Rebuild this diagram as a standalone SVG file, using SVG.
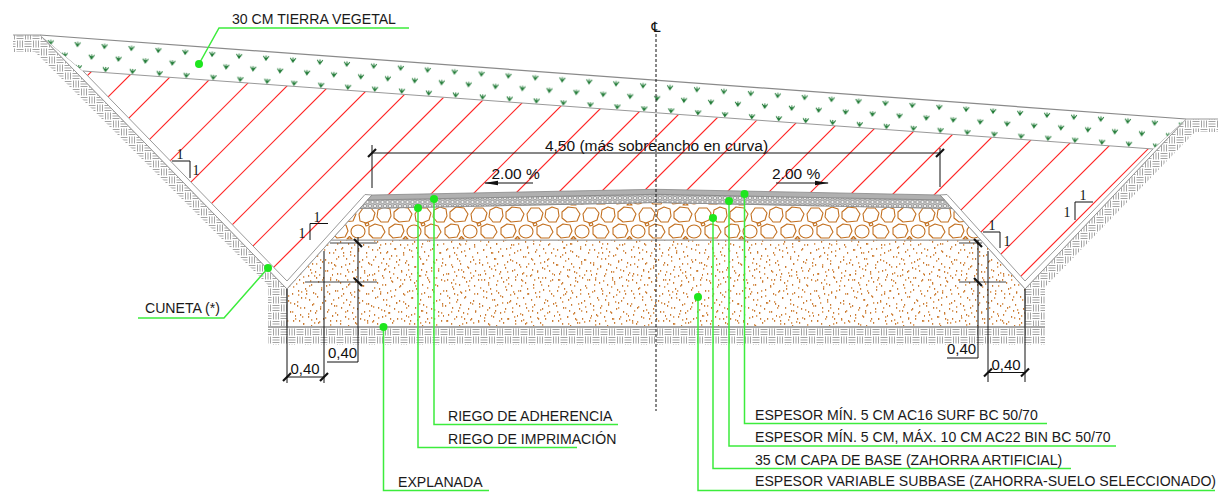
<svg xmlns="http://www.w3.org/2000/svg" xmlns:xlink="http://www.w3.org/1999/xlink" width="1227" height="495" viewBox="0 0 1227 495">
<style>
.lbl{font-family:"Liberation Sans",Arial,sans-serif;font-size:14.1px;fill:#1a1a1a}
.dim{font-family:"Liberation Sans",Arial,sans-serif;font-size:15.5px;fill:#111}
.d40{font-family:"Liberation Sans",Arial,sans-serif;font-size:15px;fill:#111}
.one{font-family:"Liberation Serif","Times New Roman",serif;font-size:14px;fill:#111}
.lead{stroke:#3cec3c;stroke-width:1.5;fill:none}
.dot{fill:#1ee61e}
.dl{stroke:#111;stroke-width:1;fill:none}
.ext{stroke:#444;stroke-width:1;fill:none}
.tick{stroke:#111;stroke-width:2.2}
.gl{stroke:#9a9a9a;stroke-width:1;fill:none}
.rl{stroke:#ff2a2a;stroke-width:1.2;fill:none}
</style>
<defs>
<pattern id="ground" patternUnits="userSpaceOnUse" width="16" height="16">
<rect width="16" height="16" fill="#fff"/>
<path d="M0.5,1.5H7.5M0.5,4H7.5M0.5,6.5H7.5M9.5,0.5V7.5M12,0.5V7.5M14.5,0.5V7.5M1.5,8.5V15.5M4,8.5V15.5M6.5,8.5V15.5M8.5,9.5H15.5M8.5,12H15.5M8.5,14.5H15.5" stroke="#999" stroke-width="0.9" fill="none"/>
</pattern>
<path id="tuft" d="M-2.8,-2L0,2.2L2.8,-2M0,-2.5V2.5M-1.6,-0.6L0,1.4L1.6,-0.6" fill="none" stroke="#1f7a35" stroke-width="1"/>
<pattern id="veg" patternUnits="userSpaceOnUse" width="27" height="34.35" patternTransform="translate(46,37) rotate(4.17)">
<use href="#tuft" x="5" y="5"/>
<use href="#tuft" x="19.9" y="16.45"/>
<use href="#tuft" x="7.8" y="27.9"/>
</pattern>
<pattern id="stones" patternUnits="userSpaceOnUse" x="0" y="206" width="56" height="34">
<g fill="none" stroke="#c26f1f" stroke-width="1.1" stroke-linejoin="round">
<path d="M2,6L8,1L16,2L20,8L17,15L7,16L2,12Z"/>
<path d="M23,8L27,2L35,2L39,7L37,14L30,17L24,15Z"/>
<path d="M42,4L48,1L54,3L55,10L52,16L45,16L41,11Z"/>
<path d="M-3,22L3,18L10,19L12,25L9,31L1,32L-3,28Z"/>
<path d="M53,22L59,18L66,19L68,25L65,31L57,32L53,28Z"/>
<ellipse cx="22" cy="25.5" rx="7" ry="6.5"/>
<path d="M33,21L39,18L46,20L49,26L45,32L37,32L33,28Z"/>
<path d="M11,33L13.5,30.5L16,33Z"/>
<path d="M29,17.5L32,16.5L33,19L30,20Z"/>
</g>
</pattern>
<pattern id="spA" patternUnits="userSpaceOnUse" width="37" height="41">
<g fill="#c8782f">
<rect x="2" y="3" width="1.2" height="1.8"/><rect x="9" y="1" width="1.2" height="1.8"/><rect x="17" y="5" width="1.2" height="1.8"/><rect x="25" y="2" width="1.2" height="1.8"/><rect x="33" y="6" width="1.2" height="1.8"/><rect x="5" y="10" width="1.2" height="1.8"/><rect x="13" y="12" width="1.2" height="1.8"/><rect x="21" y="9" width="1.2" height="1.8"/><rect x="29" y="13" width="1.2" height="1.8"/><rect x="35" y="16" width="1.2" height="1.8"/><rect x="1" y="18" width="1.2" height="1.8"/><rect x="8" y="20" width="1.2" height="1.8"/><rect x="16" y="17" width="1.2" height="1.8"/><rect x="24" y="21" width="1.2" height="1.8"/><rect x="31" y="24" width="1.2" height="1.8"/><rect x="4" y="27" width="1.2" height="1.8"/><rect x="12" y="29" width="1.2" height="1.8"/><rect x="19" y="25" width="1.2" height="1.8"/><rect x="27" y="31" width="1.2" height="1.8"/><rect x="34" y="33" width="1.2" height="1.8"/><rect x="7" y="36" width="1.2" height="1.8"/><rect x="15" y="38" width="1.2" height="1.8"/><rect x="22" y="35" width="1.2" height="1.8"/><rect x="30" y="39" width="1.2" height="1.8"/><rect x="36" y="28" width="1" height="1.8"/><rect x="10" y="6" width="1.2" height="1.8"/><rect x="20" y="31" width="1.2" height="1.8"/><rect x="3" y="33" width="1.2" height="1.8"/><rect x="26" y="15" width="1.2" height="1.8"/><rect x="14" y="23" width="1.2" height="1.8"/>
</g>
</pattern>
<pattern id="spB" patternUnits="userSpaceOnUse" width="53" height="47">
<g fill="#dc9c5e">
<rect x="3" y="5" width="1.3" height="1.9"/><rect x="11" y="2" width="1.3" height="1.9"/><rect x="19" y="8" width="1.3" height="1.9"/><rect x="28" y="4" width="1.3" height="1.9"/><rect x="36" y="9" width="1.3" height="1.9"/><rect x="44" y="3" width="1.3" height="1.9"/><rect x="50" y="11" width="1.3" height="1.9"/><rect x="6" y="14" width="1.3" height="1.9"/><rect x="15" y="17" width="1.3" height="1.9"/><rect x="23" y="13" width="1.3" height="1.9"/><rect x="32" y="19" width="1.3" height="1.9"/><rect x="40" y="15" width="1.3" height="1.9"/><rect x="48" y="21" width="1.3" height="1.9"/><rect x="2" y="24" width="1.3" height="1.9"/><rect x="10" y="27" width="1.3" height="1.9"/><rect x="18" y="23" width="1.3" height="1.9"/><rect x="27" y="29" width="1.3" height="1.9"/><rect x="35" y="25" width="1.3" height="1.9"/><rect x="43" y="31" width="1.3" height="1.9"/><rect x="51" y="28" width="1.3" height="1.9"/><rect x="7" y="35" width="1.3" height="1.9"/><rect x="14" y="33" width="1.3" height="1.9"/><rect x="22" y="38" width="1.3" height="1.9"/><rect x="30" y="36" width="1.3" height="1.9"/><rect x="38" y="41" width="1.3" height="1.9"/><rect x="46" y="37" width="1.3" height="1.9"/><rect x="4" y="44" width="1.3" height="1.9"/><rect x="12" y="42" width="1.3" height="1.9"/><rect x="20" y="45" width="1.3" height="1.9"/><rect x="29" y="44" width="1.3" height="1.9"/><rect x="37" y="34" width="1.3" height="1.9"/><rect x="45" y="45" width="1.3" height="1.9"/><rect x="25" y="20" width="1.3" height="1.9"/><rect x="41" y="8" width="1.3" height="1.9"/><rect x="9" y="9" width="1.3" height="1.9"/><rect x="33" y="12" width="1.3" height="1.9"/><rect x="17" y="30" width="1.3" height="1.9"/><rect x="49" y="40" width="1.3" height="1.9"/><rect x="1" y="39" width="1.3" height="1.9"/><rect x="31" y="1" width="1.3" height="1.9"/>
</g>
</pattern>
<pattern id="bin" patternUnits="userSpaceOnUse" x="0" y="200" width="10" height="8">
<rect width="10" height="8" fill="#c4c4c4"/>
<g fill="#f4f4f4" stroke="#7a7a7a" stroke-width="0.6">
<circle cx="2.5" cy="2" r="1.6"/><circle cx="7.5" cy="2" r="1.6"/><circle cx="0" cy="6" r="1.6"/><circle cx="5" cy="6" r="1.6"/><circle cx="10" cy="6" r="1.6"/>
</g>
</pattern>
<clipPath id="fillClip">
<polygon points="83,71 1153,149 1025,281 947,194.5 940,195 656,189.3 372,195 365,194.5 287,281"/>
</clipPath>
<marker id="arr" viewBox="0 0 14 6" refX="13" refY="3" markerWidth="14" markerHeight="6" markerUnits="userSpaceOnUse" orient="auto">
<path d="M0,0.8L14,3L0,5.2Z" fill="#111"/>
</marker>
</defs>

<rect width="1227" height="495" fill="#fff"/>

<g id="ground">
<polygon points="13,35 40,35 287,289 287,345 268,345 268,285 35,52 13,52" fill="url(#ground)"/>
<polygon points="1218,119 1186,119 1025,289 1025,345 1045,345 1045,287 1195,132 1218,132" fill="url(#ground)"/>
<rect x="287" y="327" width="738" height="18" fill="url(#ground)"/>
<polyline class="gl" points="13,35 40,35 287,289"/>
<polyline class="gl" points="1218,119 1186,119 1025,289"/>
</g>

<g id="fill-slope">
<polygon points="83,71 1153,149 1025,281 947,194.5 940,195 656,189.3 372,195 365,194.5 287,281" fill="#fff"/>
<g clip-path="url(#fillClip)">
<path class="rl" d="M-137,300L113,50M-95,300L155,50M-53,300L197,50M-11,300L239,50M31,300L281,50M73,300L323,50M115,300L365,50M157,300L407,50M199,300L449,50M241,300L491,50M283,300L533,50M325,300L575,50M367,300L617,50M409,300L659,50M451,300L701,50M493,300L743,50M535,300L785,50M577,300L827,50M619,300L869,50M661,300L911,50M703,300L953,50M745,300L995,50M787,300L1037,50M829,300L1079,50M871,300L1121,50M913,300L1163,50M955,300L1205,50M997,300L1247,50M1039,300L1289,50"/>
</g>
</g>

<g id="cuneta-left">
<polygon points="40,35 287,289 372,195 365,194.5 287,281 83,71" fill="#fff" stroke="#999" stroke-width="1"/>
</g>
<g id="cuneta-right">
<polygon points="1186,119 1025,289 940,195 947,194.5 1025,281 1153,149" fill="#fff" stroke="#999" stroke-width="1"/>
</g>

<g id="tierra-vegetal">
<polygon points="40,35 1186,119 1153,149 83,71" fill="#fff"/>
<polygon points="40,35 1186,119 1153,149 83,71" fill="url(#veg)"/>
<line x1="40" y1="35" x2="1186" y2="119" stroke="#8a8a8a" stroke-width="1.2"/>
<line x1="83" y1="71" x2="1153" y2="149" stroke="#999" stroke-width="1"/>
</g>

<g id="subbase">
<polygon points="331.3,240 980.7,240 1025,289 1025,327 287,327 287,289" fill="#fff"/>
<polygon points="331.3,240 980.7,240 1025,289 1025,327 287,327 287,289" fill="url(#spB)"/>
<polygon points="331.3,240 980.7,240 1025,289 1025,327 287,327 287,289" fill="url(#spA)" stroke="#9a9a9a" stroke-width="1"/>
<line x1="268" y1="327" x2="1045" y2="327" stroke="#a8a8a8" stroke-width="2"/>
</g>

<g id="base">
<polygon points="331.3,240 359.8,208.5 656,202.5 952.2,208.5 980.7,240" fill="#fff"/>
<polygon points="331.3,240 359.8,208.5 656,202.5 952.2,208.5 980.7,240" fill="url(#stones)" stroke="#9a9a9a" stroke-width="1"/>
</g>

<g id="binder">
<polygon points="359.8,208.5 367.5,200 656,194.3 944.5,200 952.2,208.5 656,202.5" fill="url(#bin)" stroke="#8a8a8a" stroke-width="0.8"/>
</g>
<g id="surface">
<polygon points="367.5,200 372,195 656,189.3 940,195 944.5,200 656,194.3" fill="#b0b0b0" stroke="#888" stroke-width="0.8"/>
</g>

<g id="centerline">
<line x1="656" y1="34" x2="656" y2="411" stroke="#111" stroke-width="1" stroke-dasharray="3,2"/>
<text x="656" y="32" text-anchor="middle" font-family="DejaVu Sans, sans-serif" font-size="14" fill="#111">℄</text>
</g>

<g id="dim-width">
<line class="dl" x1="372" y1="153" x2="940" y2="153"/>
<line class="dl" x1="372" y1="145" x2="372" y2="188"/>
<line class="dl" x1="940" y1="148" x2="940" y2="187"/>
<line class="tick" x1="368" y1="157" x2="376" y2="149"/>
<line class="tick" x1="936" y1="157" x2="944" y2="149"/>
<text class="dim" x="656.5" y="150.5" text-anchor="middle">4,50 (más sobreancho en curva)</text>
</g>

<g id="slope-left">
<text class="dim" x="491.5" y="179">2.00 %</text>
<line x1="533" y1="183" x2="485" y2="183" stroke="#111" stroke-width="1.2" marker-end="url(#arr)"/>
</g>
<g id="slope-right">
<text class="dim" x="772" y="179">2.00 %</text>
<line x1="776" y1="183" x2="828" y2="183" stroke="#111" stroke-width="1.2" marker-end="url(#arr)"/>
</g>

<g id="talud-1">
<text class="one" x="180" y="159" text-anchor="middle">1</text>
<polyline class="dl" points="172,161 190,161 190,178"/>
<text class="one" x="196" y="175" text-anchor="middle">1</text>
</g>
<g id="talud-2">
<text class="one" x="317" y="222" text-anchor="middle">1</text>
<polyline class="dl" points="328,223.5 310,223.5 310,240"/>
<text class="one" x="302" y="238" text-anchor="middle">1</text>
</g>
<g id="talud-3">
<text class="one" x="992" y="230" text-anchor="middle">1</text>
<polyline class="dl" points="983,232 1000,232 1000,248"/>
<text class="one" x="1007" y="246" text-anchor="middle">1</text>
</g>
<g id="talud-4">
<text class="one" x="1083" y="200" text-anchor="middle">1</text>
<polyline class="dl" points="1093,202 1075,202 1075,220"/>
<text class="one" x="1067" y="217" text-anchor="middle">1</text>
</g>

<g id="dim-left">
<line class="ext" x1="330" y1="243" x2="377" y2="243"/>
<line class="ext" x1="305" y1="282" x2="377" y2="282"/>
<line class="dl" x1="358" y1="237" x2="358" y2="362"/>
<line class="dl" x1="324" y1="251" x2="324" y2="383"/>
<line class="dl" x1="287" y1="289" x2="287" y2="383"/>
<line class="tick" x1="354" y1="239" x2="362" y2="247"/>
<line class="tick" x1="354" y1="278" x2="362" y2="286"/>
<line class="dl" x1="327" y1="362" x2="358" y2="362"/>
<text class="d40" x="328" y="358">0,40</text>
<line class="dl" x1="287" y1="377" x2="324" y2="377"/>
<line class="tick" x1="283" y1="381" x2="291" y2="373"/>
<line class="tick" x1="320" y1="381" x2="328" y2="373"/>
<text class="d40" x="290.5" y="374">0,40</text>
</g>

<g id="dim-right">
<line class="ext" x1="959" y1="243" x2="982" y2="243"/>
<line class="ext" x1="959" y1="282" x2="1006" y2="282"/>
<line class="dl" x1="978" y1="240" x2="978" y2="358"/>
<line class="dl" x1="988" y1="251" x2="988" y2="382"/>
<line class="dl" x1="1025" y1="289" x2="1025" y2="382"/>
<line class="tick" x1="974" y1="239" x2="982" y2="247"/>
<line class="tick" x1="974" y1="278" x2="982" y2="286"/>
<line class="dl" x1="947" y1="358" x2="978" y2="358"/>
<text class="d40" x="947" y="354">0,40</text>
<line class="dl" x1="988" y1="372.5" x2="1025" y2="372.5"/>
<line class="tick" x1="984" y1="376.5" x2="992" y2="368.5"/>
<line class="tick" x1="1021" y1="376.5" x2="1029" y2="368.5"/>
<text class="d40" x="991.5" y="369.5">0,40</text>
</g>

<g id="connectors">
<polyline class="lead" points="199,64 219,28 409,28"/>
<polyline class="lead" points="268,268 224,318 138,318"/>
<polyline class="lead" points="434,199 434,424.5 618,424.5"/>
<polyline class="lead" points="418,208 418,447.5 577,447.5"/>
<polyline class="lead" points="383.5,327 383.5,490.5 489,490.5"/>
<polyline class="lead" points="744.5,194 744.5,423.5 1047,423.5"/>
<polyline class="lead" points="729,201 729,446 1116,446"/>
<polyline class="lead" points="713,218 713,468.5 1071,468.5"/>
<polyline class="lead" points="698,297 698,490.5 1215,490.5"/>
</g>

<g id="label-vegetal"><circle class="dot" cx="199" cy="64" r="4"/><text class="lbl" x="232" y="24">30 CM TIERRA VEGETAL</text></g>
<g id="label-cuneta"><circle class="dot" cx="268" cy="268" r="4"/><text class="lbl" x="145" y="313">CUNETA (*)</text></g>
<g id="label-adherencia"><circle class="dot" cx="434" cy="199" r="4"/><text class="lbl" x="448" y="421">RIEGO DE ADHERENCIA</text></g>
<g id="label-imprimacion"><circle class="dot" cx="418" cy="208" r="4"/><text class="lbl" x="448" y="443.5">RIEGO DE IMPRIMACIÓN</text></g>
<g id="label-explanada"><circle class="dot" cx="383.5" cy="327" r="4"/><text class="lbl" x="398" y="487">EXPLANADA</text></g>
<g id="label-surf"><circle class="dot" cx="744.5" cy="194" r="4"/><text class="lbl" x="755" y="419.5">ESPESOR MÍN. 5 CM AC16 SURF BC 50/70</text></g>
<g id="label-bin"><circle class="dot" cx="729" cy="201" r="4"/><text class="lbl" x="755" y="442">ESPESOR MÍN. 5 CM, MÁX. 10 CM AC22 BIN BC 50/70</text></g>
<g id="label-base"><circle class="dot" cx="713" cy="218" r="4"/><text class="lbl" x="755" y="464.5">35 CM CAPA DE BASE (ZAHORRA ARTIFICIAL)</text></g>
<g id="label-subbase"><circle class="dot" cx="698" cy="297" r="4"/><text class="lbl" x="755" y="486">ESPESOR VARIABLE SUBBASE (ZAHORRA-SUELO SELECCIONADO)</text></g>
</svg>
